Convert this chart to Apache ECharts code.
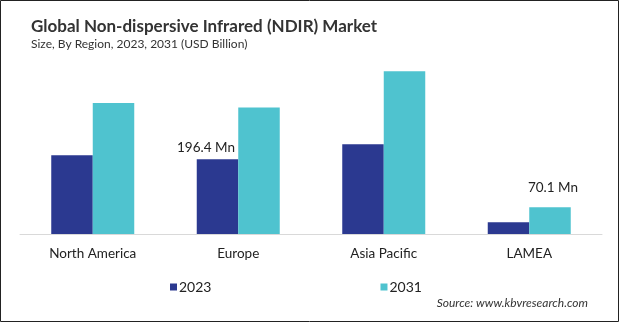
<!DOCTYPE html>
<html><head><meta charset="utf-8">
<script src="https://cdn.jsdelivr.net/npm/echarts@6/dist/echarts.min.js"></script>
<style>html,body{margin:0;padding:0;background:#fff}#c{width:619px;height:322px}</style>
</head><body><div id="c"></div>
<script>
const categories = ['North America', 'Europe', 'Asia Pacific', 'LAMEA'];
const values2023 = [207, 196.4, 236, 30.8];
const values2031 = [344.5, 333, 428, 70.1];
const labels2023 = ['', '196.4 Mn', '', ''];
const labels2031 = ['', '', '', '70.1 Mn'];
const seriesNames = ['2023', '2031'];

const font = 'Lato';
const chart = echarts.init(document.getElementById('c'));
function mk(vals, labs) {
  return vals.map((v, i) => labs[i] ? {value: v, label: {show: true, formatter: labs[i]}} : v);
}
chart.setOption({
  animation: false,
  graphic: [
    {type: 'rect', shape: {x: 0.5, y: 0.5, width: 618, height: 321}, style: {fill: 'none', stroke: '#222', lineWidth: 1}, z: 100},
    {type: 'text', x: 31, y: 27, style: {text: 'Global Non-dispersive Infrared (NDIR) Market', font: 'bold 17px ' + font, fill: '#333', verticalAlign: 'middle'}},
    {type: 'text', x: 31, y: 44.5, style: {text: 'Size, By Region, 2023, 2031 (USD Billion)', font: '12px ' + font, fill: '#333', verticalAlign: 'middle'}},
    {type: 'text', x: 588, y: 303, style: {text: 'Source: www.kbvresearch.com', font: 'italic 12px ' + font, fill: '#333', align: 'right', verticalAlign: 'middle'}}
  ],
  legend: {
    left: 165, top: 275, itemWidth: 7, itemHeight: 7, itemGap: 169, icon: 'rect',
    textStyle: {fontFamily: font, fontSize: 14, color: '#222', padding: [0,0,0,-3]},
    data: seriesNames
  },
  grid: {left: 20, right: 17, top: 44, bottom: 88, containLabel: false},
  xAxis: {
    type: 'category', data: categories,
    axisLine: {lineStyle: {color: '#d9d9d9'}}, axisTick: {show: false},
    axisLabel: {fontFamily: font, fontSize: 13.5, color: '#222', margin: 13}
  },
  yAxis: {type: 'value', min: 0, max: 500, show: false, splitLine: {show: false}},
  series: [
    {name: seriesNames[0], type: 'bar', barWidth: 41.5, barGap: '0%', itemStyle: {color: '#2B3990'},
     label: {show: false, position: 'top', distance: 5, offset: [-11.5, 0], fontFamily: font, fontSize: 13.5, color: '#222'},
     data: mk(values2023, labels2023)},
    {name: seriesNames[1], type: 'bar', barWidth: 41.5, barGap: '0%', itemStyle: {color: '#4FC3CF'},
     label: {show: false, position: 'top', distance: 13, offset: [3, 0], fontFamily: font, fontSize: 13.5, color: '#222'},
     data: mk(values2031, labels2031)}
  ]
});
</script></body></html>
